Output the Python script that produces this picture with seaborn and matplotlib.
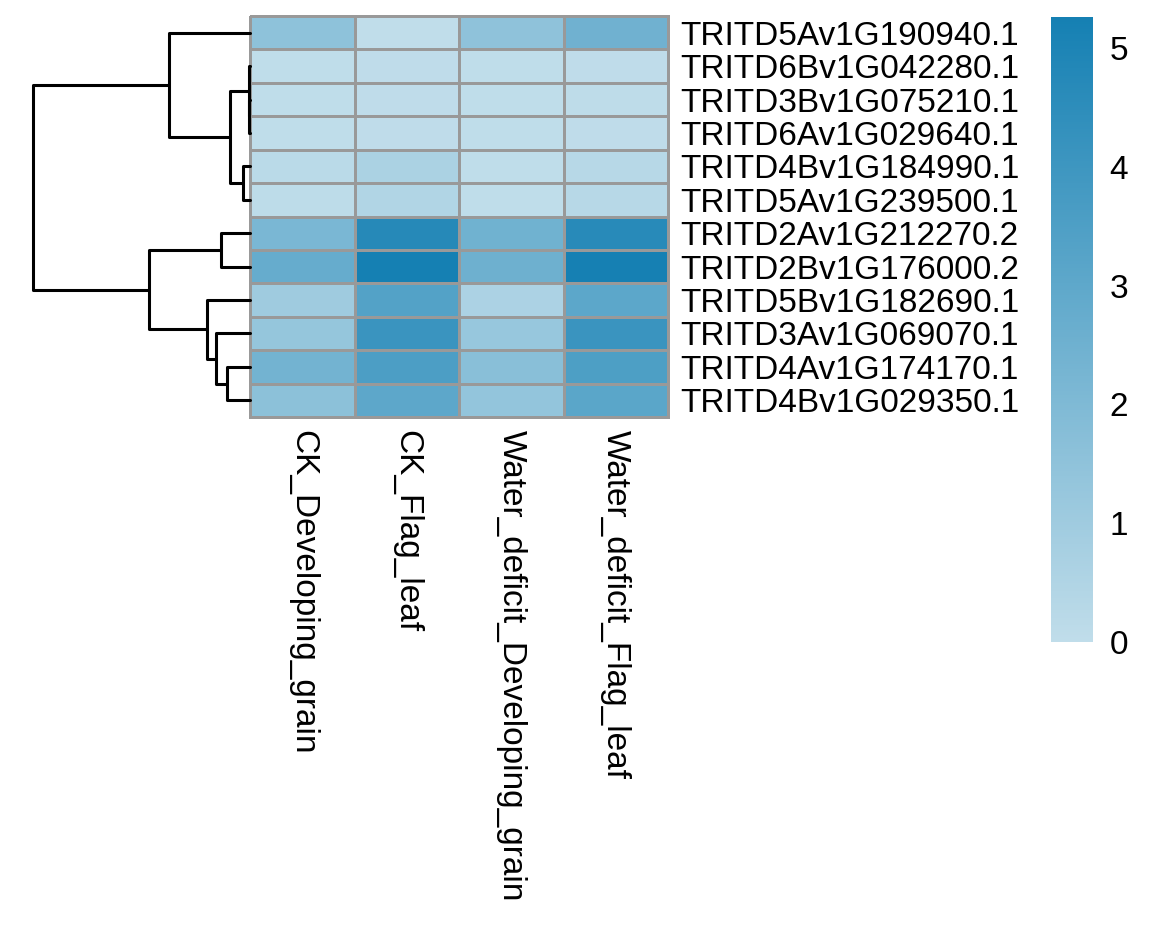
import numpy as np
import pandas as pd
import matplotlib
matplotlib.use("Agg")
import matplotlib.pyplot as plt
import seaborn as sns
from matplotlib.colors import LinearSegmentedColormap

# data
genes = ["TRITD5Av1G190940.1", "TRITD6Bv1G042280.1", "TRITD3Bv1G075210.1",
         "TRITD6Av1G029640.1", "TRITD4Bv1G184990.1", "TRITD5Av1G239500.1",
         "TRITD2Av1G212270.2", "TRITD2Bv1G176000.2", "TRITD5Bv1G182690.1",
         "TRITD3Av1G069070.1", "TRITD4Av1G174170.1", "TRITD4Bv1G029350.1"]
samples = ["CK_Developing_grain", "CK_Flag_leaf",
           "Water_deficit_Developing_grain", "Water_deficit_Flag_leaf"]

ck_grain = [1.55, 0.03, 0.04, 0.03, 0.20, 0.10, 2.14, 2.76, 1.02, 1.33, 2.38, 1.61]
ck_leaf = [0.02, 0.05, 0.06, 0.05, 0.65, 0.46, 4.74, 5.26, 3.34, 4.12, 3.56, 3.03]
wd_grain = [1.50, 0.03, 0.03, 0.03, 0.04, 0.03, 2.45, 2.54, 0.62, 1.27, 1.70, 1.39]
wd_leaf = [2.48, 0.06, 0.07, 0.06, 0.30, 0.30, 4.68, 5.23, 3.07, 4.12, 3.53, 3.13]

# row clustering: leaves 0..11, each merge creates node 12, 13, ...
merge_a = [2, 1, 4, 13, 0, 6, 10, 9, 8, 17, 16]
merge_b = [3, 12, 5, 14, 15, 7, 11, 18, 19, 20, 21]
merge_h = [0.02, 0.04, 0.26, 0.75, 3.02, 1.08, 0.86, 1.27, 1.60, 3.77, 8.10]

df = pd.DataFrame({samples[0]: ck_grain, samples[1]: ck_leaf,
                   samples[2]: wd_grain, samples[3]: wd_leaf}, index=genes)

sns.set_style("white")
plt.rcParams['font.family'] = ['Liberation Sans', 'DejaVu Sans']
plt.rcParams['text.color'] = 'black'
plt.rcParams['xtick.color'] = 'black'
plt.rcParams['ytick.color'] = 'black'

cmap = LinearSegmentedColormap.from_list("blues", ["#C0DDEA", "#1580B3"])

W, H = 1170, 931
fig = plt.figure(figsize=(W / 100, H / 100), dpi=100)
ax_heat = fig.add_axes([250 / W, 1 - 417 / H, 418 / W, 401 / H])
ax_tree = fig.add_axes([33 / W, 1 - 417 / H, 217 / W, 401 / H])
ax_cbar = fig.add_axes([1051 / W, 1 - 642 / H, 42 / W, 625 / H])

# heatmap
sns.heatmap(df, ax=ax_heat, cmap=cmap, vmin=0, vmax=5.26,
            linewidths=1.9, linecolor="#999999", cbar_ax=ax_cbar)
ax_heat.collections[0].set_clip_on(False)
ax_heat.set_xlabel("")
ax_heat.set_ylabel("")
ax_heat.yaxis.tick_right()
ax_heat.set_yticks(np.arange(len(genes)) + 0.5)
ax_heat.set_yticklabels(genes, rotation=0, fontsize=24)
ax_heat.set_xticks(np.arange(len(samples)) + 0.5)
ax_heat.set_xticklabels(samples, rotation=270, fontsize=24, va="top", ha="center")
ax_heat.tick_params(axis="y", length=0, pad=9, labelcolor="black")
ax_heat.tick_params(axis="x", length=0, pad=9, labelcolor="black")

# colorbar
cbar = ax_heat.collections[0].colorbar
cbar.outline.set_visible(False)
cbar.set_ticks([0, 1, 2, 3, 4, 5])
ax_cbar.tick_params(length=0, labelsize=24, pad=12, labelcolor="black")

# row dendrogram
pos = {i: (0.0, i + 0.5) for i in range(len(genes))}
for k in range(len(merge_h)):
    ha, ya = pos[merge_a[k]]
    hb, yb = pos[merge_b[k]]
    h = merge_h[k]
    ax_tree.plot([ha, h, h, hb], [ya, ya, yb, yb], color="black", lw=2.2,
                 clip_on=False)
    pos[len(genes) + k] = (h, (ya + yb) / 2)
ax_tree.set_xlim(max(merge_h), 0)
ax_tree.set_ylim(len(genes), 0)
ax_tree.axis("off")

fig.savefig("out.png", dpi=100)
